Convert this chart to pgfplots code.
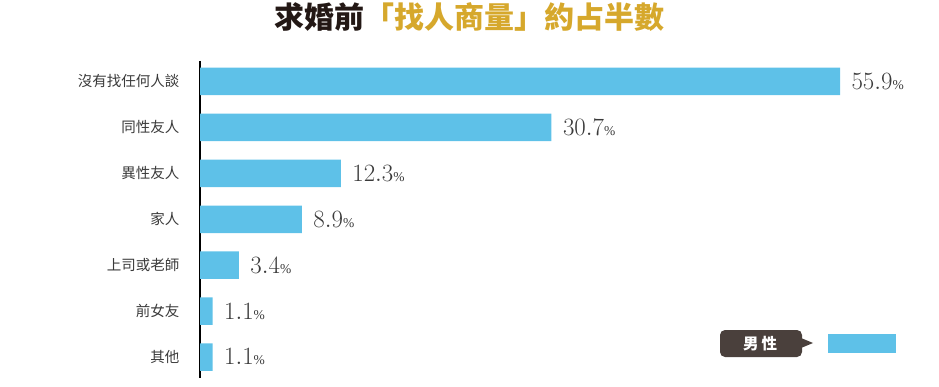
\documentclass[border=0pt]{standalone}
\usepackage{pgfplots}
\pgfplotsset{compat=1.18}
\usepackage{fontspec}
\setmainfont{Liberation Serif}
\newfontfamily\cjk{Noto Sans CJK TC}
\definecolor{barblue}{HTML}{5EC1E8}
\definecolor{gold}{HTML}{D6A82C}
\definecolor{titleblack}{HTML}{231815}
\definecolor{labelgray}{HTML}{3A3A3A}
\definecolor{legbox}{HTML}{4A403C}
\begin{document}
\begin{tikzpicture}
\path[use as bounding box] (0pt,0pt) rectangle (939pt,386pt);
\begin{axis}[
  at={(200pt,8.3pt)}, anchor=south west,
  scale only axis, width=640pt, height=316.9pt,
  xmin=0, xmax=55.9,
  ymin=-0.45, ymax=6.45, y dir=reverse,
  axis x line=none,
  axis y line=left,
  y axis line style={-, black, line width=1.1pt},
  ytick={0,1,2,3,4,5,6},
  yticklabels={沒有找任何人談,同性友人,異性友人,家人,上司或老師,前女友,其他},
  yticklabel style={font=\cjk\fontsize{14.5}{14.5}\selectfont, text=labelgray, xshift=-17pt},
  major tick length=0pt,
  xbar, bar width=27.5pt,
  point meta=x,
  nodes near coords={\pgfmathprintnumber[fixed,precision=1,fixed zerofill]{\pgfplotspointmeta}{\fontsize{13.5}{13.5}\selectfont\%}},
  every node near coord/.append style={anchor=west, xshift=8pt, text=labelgray, font=\fontsize{24}{24}\selectfont},
  clip=false,
]
\addplot[fill=barblue, draw=none] coordinates {
 (55.9,0) (30.7,1) (12.3,2) (8.9,3) (3.4,4) (1.1,5) (1.1,6)
};
\end{axis}
\node[font=\cjk\bfseries\fontsize{30}{30}\selectfont, inner sep=0pt] at (469pt,369pt)
  {{\color{titleblack}求婚前}{\color{gold}「找人商量」約占半數}};
\fill[legbox, rounded corners=5pt] (720pt,29pt) rectangle (802pt,56pt);
\fill[legbox] (801pt,48pt) -- (813pt,43pt) -- (801pt,38pt) -- cycle;
\node[font=\cjk\bfseries\fontsize{15.5}{15.5}\selectfont, text=white, inner sep=0pt] at (760pt,42.5pt) {男\hspace{3pt}性};
\fill[barblue] (828pt,33pt) rectangle (896pt,52pt);
\end{tikzpicture}
\end{document}
